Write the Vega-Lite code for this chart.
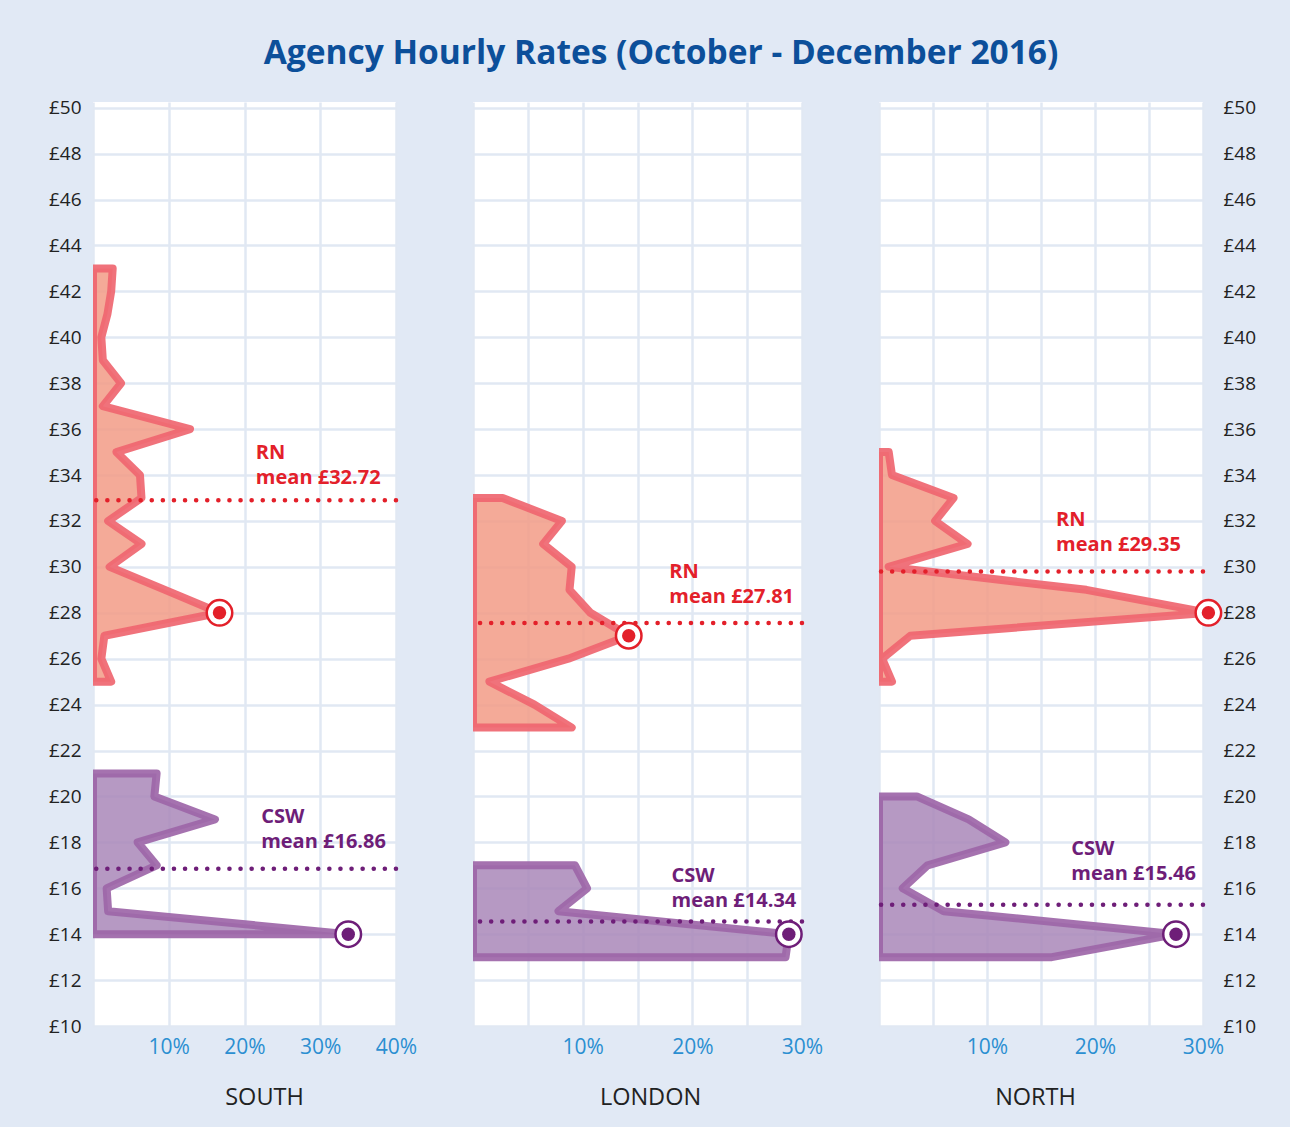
{
  "$schema": "https://vega.github.io/schema/vega-lite/v6.json",
  "background": "#e1e9f5",
  "padding": {"left": 48, "top": 37, "right": 34, "bottom": 18},
  "title": {"text": "Agency Hourly Rates (October - December 2016)", "fontSize": 33.5, "fontWeight": "bold", "color": "#0c4f9a", "font": "Open Sans", "offset": 27, "anchor": "middle", "dx": 9},
  "bounds": "flush",
  "spacing": 77,
  "datasets": {
    "dist": [
      {"region": "SOUTH", "type": "RN", "rate": 43, "pct": 2.6},
      {"region": "SOUTH", "type": "RN", "rate": 42, "pct": 2.4},
      {"region": "SOUTH", "type": "RN", "rate": 41, "pct": 1.9},
      {"region": "SOUTH", "type": "RN", "rate": 40, "pct": 1.1},
      {"region": "SOUTH", "type": "RN", "rate": 39, "pct": 1.3},
      {"region": "SOUTH", "type": "RN", "rate": 38, "pct": 3.7},
      {"region": "SOUTH", "type": "RN", "rate": 37, "pct": 1.3},
      {"region": "SOUTH", "type": "RN", "rate": 36, "pct": 12.8},
      {"region": "SOUTH", "type": "RN", "rate": 35, "pct": 3.1},
      {"region": "SOUTH", "type": "RN", "rate": 34, "pct": 6.2},
      {"region": "SOUTH", "type": "RN", "rate": 33, "pct": 6.4},
      {"region": "SOUTH", "type": "RN", "rate": 32, "pct": 2.0},
      {"region": "SOUTH", "type": "RN", "rate": 31, "pct": 6.4},
      {"region": "SOUTH", "type": "RN", "rate": 30, "pct": 2.2},
      {"region": "SOUTH", "type": "RN", "rate": 29, "pct": 9.5},
      {"region": "SOUTH", "type": "RN", "rate": 28, "pct": 16.7},
      {"region": "SOUTH", "type": "RN", "rate": 27, "pct": 1.5},
      {"region": "SOUTH", "type": "RN", "rate": 26, "pct": 1.1},
      {"region": "SOUTH", "type": "RN", "rate": 25, "pct": 2.4},
      {"region": "SOUTH", "type": "CSW", "rate": 21, "pct": 8.4},
      {"region": "SOUTH", "type": "CSW", "rate": 20, "pct": 8.1},
      {"region": "SOUTH", "type": "CSW", "rate": 19, "pct": 16.1},
      {"region": "SOUTH", "type": "CSW", "rate": 18, "pct": 5.9},
      {"region": "SOUTH", "type": "CSW", "rate": 17, "pct": 8.4},
      {"region": "SOUTH", "type": "CSW", "rate": 16, "pct": 1.8},
      {"region": "SOUTH", "type": "CSW", "rate": 15, "pct": 2.0},
      {"region": "SOUTH", "type": "CSW", "rate": 14, "pct": 33.7},
      {"region": "LONDON", "type": "RN", "rate": 33, "pct": 2.7},
      {"region": "LONDON", "type": "RN", "rate": 32, "pct": 8.1},
      {"region": "LONDON", "type": "RN", "rate": 31, "pct": 6.4},
      {"region": "LONDON", "type": "RN", "rate": 30, "pct": 9.0},
      {"region": "LONDON", "type": "RN", "rate": 29, "pct": 8.8},
      {"region": "LONDON", "type": "RN", "rate": 28, "pct": 10.7},
      {"region": "LONDON", "type": "RN", "rate": 27, "pct": 14.2},
      {"region": "LONDON", "type": "RN", "rate": 26, "pct": 8.7},
      {"region": "LONDON", "type": "RN", "rate": 25, "pct": 1.5},
      {"region": "LONDON", "type": "RN", "rate": 24, "pct": 5.6},
      {"region": "LONDON", "type": "RN", "rate": 23, "pct": 9.0},
      {"region": "LONDON", "type": "CSW", "rate": 17, "pct": 9.3},
      {"region": "LONDON", "type": "CSW", "rate": 16, "pct": 10.4},
      {"region": "LONDON", "type": "CSW", "rate": 15, "pct": 7.8},
      {"region": "LONDON", "type": "CSW", "rate": 14, "pct": 28.8},
      {"region": "LONDON", "type": "CSW", "rate": 13, "pct": 28.5},
      {"region": "NORTH", "type": "RN", "rate": 35, "pct": 0.9},
      {"region": "NORTH", "type": "RN", "rate": 34, "pct": 1.2},
      {"region": "NORTH", "type": "RN", "rate": 33, "pct": 6.9},
      {"region": "NORTH", "type": "RN", "rate": 32, "pct": 5.2},
      {"region": "NORTH", "type": "RN", "rate": 31, "pct": 8.2},
      {"region": "NORTH", "type": "RN", "rate": 30, "pct": 0.9},
      {"region": "NORTH", "type": "RN", "rate": 29, "pct": 19.2},
      {"region": "NORTH", "type": "RN", "rate": 28, "pct": 30.5},
      {"region": "NORTH", "type": "RN", "rate": 27, "pct": 2.9},
      {"region": "NORTH", "type": "RN", "rate": 26, "pct": 0.3},
      {"region": "NORTH", "type": "RN", "rate": 25, "pct": 1.2},
      {"region": "NORTH", "type": "CSW", "rate": 20, "pct": 3.5},
      {"region": "NORTH", "type": "CSW", "rate": 19, "pct": 8.3},
      {"region": "NORTH", "type": "CSW", "rate": 18, "pct": 11.7},
      {"region": "NORTH", "type": "CSW", "rate": 17, "pct": 4.5},
      {"region": "NORTH", "type": "CSW", "rate": 16, "pct": 2.2},
      {"region": "NORTH", "type": "CSW", "rate": 15, "pct": 6.0},
      {"region": "NORTH", "type": "CSW", "rate": 14, "pct": 27.5},
      {"region": "NORTH", "type": "CSW", "rate": 13, "pct": 16.0}
    ],
    "means": [
      {"region": "SOUTH", "type": "RN", "mean": 32.72, "line_rate": 32.9, "label": "RN\nmean £32.72", "label_x": 21.5, "label_rate": 35.39},
      {"region": "SOUTH", "type": "CSW", "mean": 16.86, "line_rate": 16.85, "label": "CSW\nmean £16.86", "label_x": 22.2, "label_rate": 19.53},
      {"region": "LONDON", "type": "RN", "mean": 27.81, "line_rate": 27.55, "label": "RN\nmean £27.81", "label_x": 17.9, "label_rate": 30.21},
      {"region": "LONDON", "type": "CSW", "mean": 14.34, "line_rate": 14.55, "label": "CSW\nmean £14.34", "label_x": 18.1, "label_rate": 16.96},
      {"region": "NORTH", "type": "RN", "mean": 29.35, "line_rate": 29.8, "label": "RN\nmean £29.35", "label_x": 16.4, "label_rate": 32.47},
      {"region": "NORTH", "type": "CSW", "mean": 15.46, "line_rate": 15.28, "label": "CSW\nmean £15.46", "label_x": 17.8, "label_rate": 18.14}
    ]
  },
  "hconcat": [
    {
      "width": 303,
      "height": 924,
      "layer": [
        {
          "data": {"name": "dist"},
          "transform": [{"filter": "datum.region === 'SOUTH'"}],
          "mark": {"type": "area", "orient": "horizontal", "clip": true, "strokeWidth": 8, "strokeJoin": "round", "fillOpacity": 0.85, "strokeOpacity": 0.92},
          "encoding": {
            "y": {"field": "rate", "type": "quantitative", "title": null, "scale": {"domain": [10, 50.25], "nice": false, "zero": false},
                  "axis": {"orient": "left", "values": [10,12,14,16,18,20,22,24,26,28,30,32,34,36,38,40,42,44,46,48,50], "labelExpr": "'£' + datum.value", "labelPadding": 12}},
            "x": {"field": "pct", "type": "quantitative", "title": "SOUTH", "stack": null, "scale": {"domain": [0, 40], "nice": false},
                  "axis": {"values": [0,5,10,15,20,25,30,35,40], "labelExpr": "datum.value % 10 === 0 && datum.value > 0 ? datum.value + '%' : ''", "titleX": 171}},
            "detail": {"field": "type"},
            "fill": {"field": "type", "scale": {"domain": ["RN", "CSW"], "range": ["#f29b86", "#a987b8"]}, "legend": null},
            "stroke": {"field": "type", "scale": {"domain": ["RN", "CSW"], "range": ["#ef6670", "#9d66a8"]}, "legend": null}
          }
        },
        {
          "data": {"name": "means"},
          "transform": [{"filter": "datum.region === 'SOUTH'"}],
          "mark": {"type": "rule", "strokeDash": [0.1, 11], "strokeCap": "round", "strokeWidth": 4.5},
          "encoding": {
            "y": {"field": "line_rate", "type": "quantitative", "title": null},
            "color": {"field": "type", "scale": {"domain": ["RN", "CSW"], "range": ["#e3202a", "#6e1e78"]}, "legend": null}
          }
        },
        {
          "data": {"name": "means"},
          "transform": [{"filter": "datum.region === 'SOUTH'"}],
          "mark": {"type": "text", "align": "left", "baseline": "top", "fontSize": 20, "fontWeight": "bold", "lineHeight": 25, "lineBreak": "\n"},
          "encoding": {
            "x": {"field": "label_x", "type": "quantitative", "title": "SOUTH"},
            "y": {"field": "label_rate", "type": "quantitative", "title": null},
            "text": {"field": "label"},
            "color": {"field": "type", "legend": null}
          }
        },
        {
          "data": {"name": "dist"},
          "transform": [{"filter": "datum.region === 'SOUTH'"}, {"joinaggregate": [{"op": "max", "field": "pct", "as": "maxp"}], "groupby": ["type"]}, {"filter": "datum.pct === datum.maxp"}],
          "mark": {"type": "point", "shape": "circle", "filled": false, "fill": "white", "fillOpacity": 1, "size": 650, "strokeWidth": 2.5, "opacity": 1},
          "encoding": {
            "x": {"field": "pct", "type": "quantitative", "title": "SOUTH"},
            "y": {"field": "rate", "type": "quantitative", "title": null},
            "color": {"field": "type", "legend": null}
          }
        },
        {
          "data": {"name": "dist"},
          "transform": [{"filter": "datum.region === 'SOUTH'"}, {"joinaggregate": [{"op": "max", "field": "pct", "as": "maxp"}], "groupby": ["type"]}, {"filter": "datum.pct === datum.maxp"}],
          "mark": {"type": "point", "shape": "circle", "filled": true, "size": 180, "opacity": 1},
          "encoding": {
            "x": {"field": "pct", "type": "quantitative", "title": "SOUTH"},
            "y": {"field": "rate", "type": "quantitative", "title": null},
            "color": {"field": "type", "legend": null}
          }
        }
      ]
    },
    {
      "width": 329,
      "height": 924,
      "layer": [
        {
          "data": {"name": "dist"},
          "transform": [{"filter": "datum.region === 'LONDON'"}],
          "mark": {"type": "area", "orient": "horizontal", "clip": true, "strokeWidth": 8, "strokeJoin": "round", "fillOpacity": 0.85, "strokeOpacity": 0.92},
          "encoding": {
            "y": {"field": "rate", "type": "quantitative", "title": null, "scale": {"domain": [10, 50.25], "nice": false, "zero": false},
                  "axis": {"orient": "left", "values": [10,12,14,16,18,20,22,24,26,28,30,32,34,36,38,40,42,44,46,48,50], "labels": false}},
            "x": {"field": "pct", "type": "quantitative", "title": "LONDON", "stack": null, "scale": {"domain": [0, 30], "nice": false},
                  "axis": {"values": [0,5,10,15,20,25,30], "labelExpr": "datum.value % 10 === 0 && datum.value > 0 ? datum.value + '%' : ''", "titleX": 177}},
            "detail": {"field": "type"},
            "fill": {"field": "type", "legend": null},
            "stroke": {"field": "type", "legend": null}
          }
        },
        {
          "data": {"name": "means"},
          "transform": [{"filter": "datum.region === 'LONDON'"}],
          "mark": {"type": "rule", "strokeDash": [0.1, 11], "strokeCap": "round", "strokeWidth": 4.5},
          "encoding": {
            "y": {"field": "line_rate", "type": "quantitative", "title": null},
            "color": {"field": "type", "legend": null}
          }
        },
        {
          "data": {"name": "means"},
          "transform": [{"filter": "datum.region === 'LONDON'"}],
          "mark": {"type": "text", "align": "left", "baseline": "top", "fontSize": 20, "fontWeight": "bold", "lineHeight": 25, "lineBreak": "\n"},
          "encoding": {
            "x": {"field": "label_x", "type": "quantitative", "title": "LONDON"},
            "y": {"field": "label_rate", "type": "quantitative", "title": null},
            "text": {"field": "label"},
            "color": {"field": "type", "legend": null}
          }
        },
        {
          "data": {"name": "dist"},
          "transform": [{"filter": "datum.region === 'LONDON'"}, {"joinaggregate": [{"op": "max", "field": "pct", "as": "maxp"}], "groupby": ["type"]}, {"filter": "datum.pct === datum.maxp"}],
          "mark": {"type": "point", "shape": "circle", "filled": false, "fill": "white", "fillOpacity": 1, "size": 650, "strokeWidth": 2.5, "opacity": 1},
          "encoding": {
            "x": {"field": "pct", "type": "quantitative", "title": "LONDON"},
            "y": {"field": "rate", "type": "quantitative", "title": null},
            "color": {"field": "type", "legend": null}
          }
        },
        {
          "data": {"name": "dist"},
          "transform": [{"filter": "datum.region === 'LONDON'"}, {"joinaggregate": [{"op": "max", "field": "pct", "as": "maxp"}], "groupby": ["type"]}, {"filter": "datum.pct === datum.maxp"}],
          "mark": {"type": "point", "shape": "circle", "filled": true, "size": 180, "opacity": 1},
          "encoding": {
            "x": {"field": "pct", "type": "quantitative", "title": "LONDON"},
            "y": {"field": "rate", "type": "quantitative", "title": null},
            "color": {"field": "type", "legend": null}
          }
        }
      ]
    },
    {
      "width": 324,
      "height": 924,
      "layer": [
        {
          "data": {"name": "dist"},
          "transform": [{"filter": "datum.region === 'NORTH'"}],
          "mark": {"type": "area", "orient": "horizontal", "clip": true, "strokeWidth": 8, "strokeJoin": "round", "fillOpacity": 0.85, "strokeOpacity": 0.92},
          "encoding": {
            "y": {"field": "rate", "type": "quantitative", "title": null, "scale": {"domain": [10, 50.25], "nice": false, "zero": false},
                  "axis": {"orient": "right", "values": [10,12,14,16,18,20,22,24,26,28,30,32,34,36,38,40,42,44,46,48,50], "labelExpr": "'£' + datum.value", "labelPadding": 20}},
            "x": {"field": "pct", "type": "quantitative", "title": "NORTH", "stack": null, "scale": {"domain": [0, 30], "nice": false},
                  "axis": {"values": [0,5,10,15,20,25,30], "labelExpr": "datum.value % 10 === 0 && datum.value > 0 ? datum.value + '%' : ''", "titleX": 156}},
            "detail": {"field": "type"},
            "fill": {"field": "type", "legend": null},
            "stroke": {"field": "type", "legend": null}
          }
        },
        {
          "data": {"name": "means"},
          "transform": [{"filter": "datum.region === 'NORTH'"}],
          "mark": {"type": "rule", "strokeDash": [0.1, 11], "strokeCap": "round", "strokeWidth": 4.5},
          "encoding": {
            "y": {"field": "line_rate", "type": "quantitative", "title": null},
            "color": {"field": "type", "legend": null}
          }
        },
        {
          "data": {"name": "means"},
          "transform": [{"filter": "datum.region === 'NORTH'"}],
          "mark": {"type": "text", "align": "left", "baseline": "top", "fontSize": 20, "fontWeight": "bold", "lineHeight": 25, "lineBreak": "\n"},
          "encoding": {
            "x": {"field": "label_x", "type": "quantitative", "title": "NORTH"},
            "y": {"field": "label_rate", "type": "quantitative", "title": null},
            "text": {"field": "label"},
            "color": {"field": "type", "legend": null}
          }
        },
        {
          "data": {"name": "dist"},
          "transform": [{"filter": "datum.region === 'NORTH'"}, {"joinaggregate": [{"op": "max", "field": "pct", "as": "maxp"}], "groupby": ["type"]}, {"filter": "datum.pct === datum.maxp"}],
          "mark": {"type": "point", "shape": "circle", "filled": false, "fill": "white", "fillOpacity": 1, "size": 650, "strokeWidth": 2.5, "opacity": 1},
          "encoding": {
            "x": {"field": "pct", "type": "quantitative", "title": "NORTH"},
            "y": {"field": "rate", "type": "quantitative", "title": null},
            "color": {"field": "type", "legend": null}
          }
        },
        {
          "data": {"name": "dist"},
          "transform": [{"filter": "datum.region === 'NORTH'"}, {"joinaggregate": [{"op": "max", "field": "pct", "as": "maxp"}], "groupby": ["type"]}, {"filter": "datum.pct === datum.maxp"}],
          "mark": {"type": "point", "shape": "circle", "filled": true, "size": 180, "opacity": 1},
          "encoding": {
            "x": {"field": "pct", "type": "quantitative", "title": "NORTH"},
            "y": {"field": "rate", "type": "quantitative", "title": null},
            "color": {"field": "type", "legend": null}
          }
        }
      ]
    }
  ],
  "config": {
    "font": "Open Sans",
    "view": {"fill": "white", "stroke": null},
    "axis": {
      "domain": false,
      "ticks": false,
      "grid": true,
      "gridColor": "#e1e8f3",
      "gridWidth": 2.5,
      "labelOverlap": false,
      "labelFlush": false,
      "labelBound": false
    },
    "axisY": {
      "labelFontSize": 19,
      "labelColor": "#222222",
      "labelFont": "Open Sans"
    },
    "axisX": {
      "labelFontSize": 21,
      "labelColor": "#2b8fd1",
      "labelPadding": 10,
      "titleFontSize": 23.5,
      "titleFontWeight": "normal",
      "titleColor": "#222222",
      "titlePadding": 28,
      "titleFont": "Open Sans"
    }
  }
}
